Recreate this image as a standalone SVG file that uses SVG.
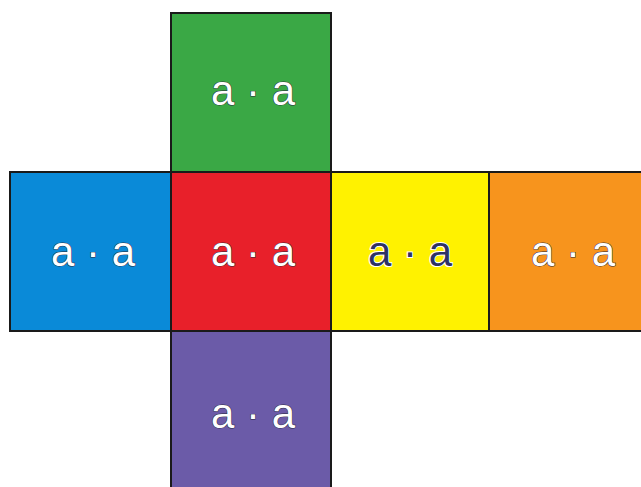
<svg xmlns="http://www.w3.org/2000/svg" width="641" height="487" viewBox="0 0 641 487">
<style>
.face{stroke:#1a1a1a;stroke-width:2}
.lbl{font-family:"Liberation Sans",Arial,sans-serif;font-size:42px;text-anchor:middle;fill:#ffffff;stroke:#2a2a3a;stroke-width:1;paint-order:stroke}
.dk{fill:#2e3366;stroke:#ffffff;stroke-width:2}
</style>
<rect width="641" height="487" fill="#ffffff"/>
<g id="top"><rect class="face" x="171" y="13" width="160" height="159" fill="#3aa845"/><text class="lbl" x="253" y="105">a · a</text></g>
<g id="left"><rect class="face" x="10" y="172" width="161" height="159" fill="#0a8ad8"/><text class="lbl" x="93" y="266">a · a</text></g>
<g id="front"><rect class="face" x="171" y="172" width="160" height="159" fill="#e8202a"/><text class="lbl" x="253" y="266">a · a</text></g>
<g id="right"><rect class="face" x="331" y="172" width="158" height="159" fill="#fff200"/><text class="lbl dk" x="410" y="266">a · a</text></g>
<g id="back"><rect class="face" x="489" y="172" width="160" height="159" fill="#f7941d"/><text class="lbl" x="573" y="266">a · a</text></g>
<g id="bottom"><rect class="face" x="171" y="331" width="160" height="165" fill="#6b5ba8"/><text class="lbl" x="253" y="428">a · a</text></g>
<g id="connectors"></g>
</svg>
